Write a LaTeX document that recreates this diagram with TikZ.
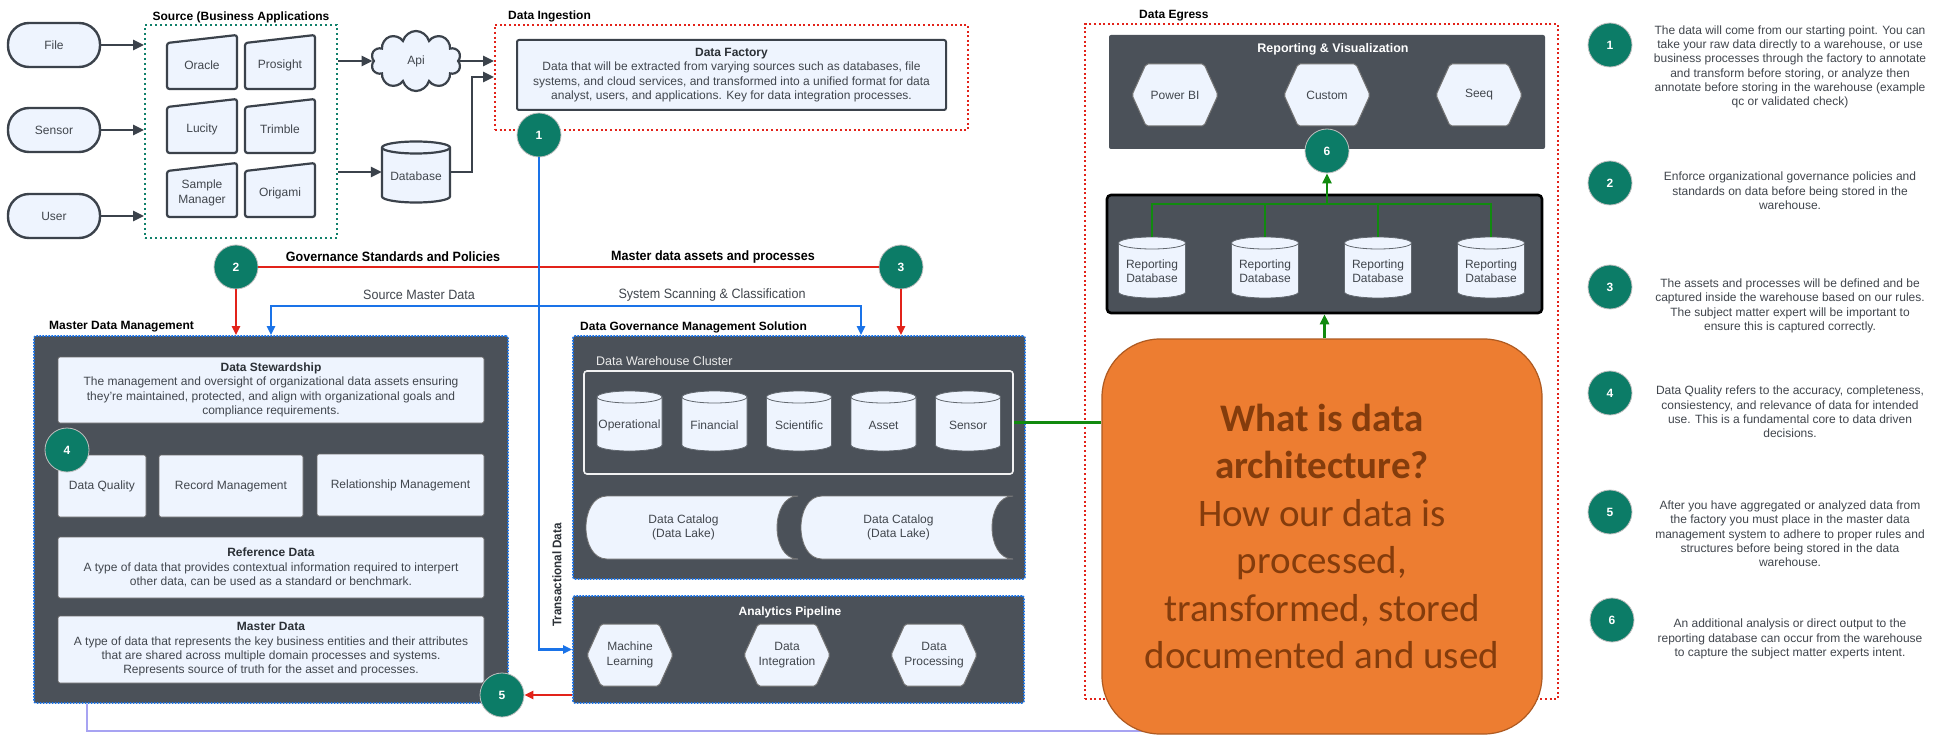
\documentclass[tikz,border=0pt]{standalone}
\usepackage{fontspec}
\setmainfont{Liberation Sans}
\newfontfamily\narrowfont{Liberation Sans}[FakeStretch=0.93]
\newfontfamily\calfont{Carlito}
\usetikzlibrary{shapes.symbols,arrows.meta,calc}

\definecolor{edge}{HTML}{3B424B}
\definecolor{lightfill}{HTML}{EEF4FE}
\definecolor{slate}{HTML}{4B5159}
\definecolor{teal}{HTML}{0C7C67}
\definecolor{srcgreen}{HTML}{11806A}
\definecolor{redc}{HTML}{E2231A}
\definecolor{bluec}{HTML}{1A73E8}
\definecolor{greenc}{HTML}{118A0F}
\definecolor{lav}{HTML}{A7A3F2}
\definecolor{txtgray}{HTML}{41464D}
\definecolor{titlegray}{HTML}{2B3036}
\definecolor{orangec}{HTML}{ED7D31}
\definecolor{orangeedge}{HTML}{AE5A21}
\definecolor{brownc}{HTML}{843C0C}

\tikzset{
 basetxt/.style={font=\fontsize{12}{14.4}\selectfont, text=txtgray, align=center, inner sep=0pt},
 lbox/.style={basetxt, draw=black!60, line width=0.8pt, fill=lightfill, rounded corners=2pt},
 darkbox/.style={fill=slate, rounded corners=2pt, inner sep=0pt},
 bluedot/.style={draw=bluec, line width=1.6pt, dash pattern=on 1.6pt off 1.4pt},
 reddot/.style={draw=redc, line width=2pt, dash pattern=on 2pt off 2.6pt, inner sep=0pt},
 greendot/.style={draw=srcgreen, line width=2pt, dash pattern=on 2pt off 3pt, inner sep=0pt},
 pill/.style={basetxt, draw=edge, line width=2.4pt, fill=lightfill, rounded corners=21pt, minimum width=92pt, minimum height=44pt},
 badge/.style={circle, fill=teal, draw=black!25, line width=0.8pt, minimum size=44pt, inner sep=0pt, text=white, font=\bfseries\fontsize{12}{14}\selectfont},
 sectitle/.style={font=\bfseries\fontsize{12}{14}\selectfont, text=black, inner sep=0pt},
 conn/.style={draw=edge, line width=2.6pt, -{Triangle[length=11pt,width=10pt]}},
 redarrow/.style={draw=redc, line width=2.6pt, -{Triangle[length=9pt,width=8pt]}},
 bluearrow/.style={draw=bluec, line width=2.6pt, -{Triangle[length=9pt,width=8pt]}},
 greenarrow/.style={draw=greenc, line width=2.6pt, -{Triangle[length=10pt,width=9pt]}},
 note/.style={basetxt, font=\fontsize{12}{14.3}\selectfont, text=txtgray},
 lbl/.style={font=\narrowfont\fontsize{13.5}{15}\selectfont, inner sep=0pt},
}

\newcommand\boxtitle[1]{\textbf{\textcolor{titlegray}{#1}}}

\newcommand\appnode[4]{%
 \filldraw[fill=lightfill, draw=edge, line width=2.2pt, rounded corners=2.5pt] (#2-35,#3+27) -- (#2-35,#3-19) -- (#2+35,#3-27) -- (#2+35,#3+27) -- cycle;
 \node[basetxt, minimum width=70pt, minimum height=46pt] (#1) at (#2,#3+3) {#4};}

\newcommand\cylnode[7][]{%
 \filldraw[fill=lightfill, draw=edge!80, line width=0.8pt, #1] (#3-#5/2,#4-#6/2+6) -- (#3-#5/2,#4+#6/2-6) arc[start angle=180,end angle=360,x radius=#5/2*1pt,y radius=6pt] -- (#3+#5/2,#4-#6/2+6) arc[start angle=0,end angle=180,x radius=#5/2*1pt,y radius=6pt] -- cycle;
 \draw[draw=edge!80, line width=0.8pt, #1] (#3-#5/2,#4-#6/2+6) arc[start angle=180,end angle=360,x radius=#5/2*1pt,y radius=6pt];
 \node[minimum width=#5pt, minimum height=#6pt, inner sep=0pt] (#2) at (#3,#4) {};
 \node[basetxt] (#2t) at (#3,#4+4) {#7};}

\newcommand\hexnode[4]{%
 \filldraw[fill=lightfill, draw=black!55, line width=1pt, rounded corners=2pt] (#2-43,#3) -- (#2-29,#3-31) -- (#2+29,#3-31) -- (#2+43,#3) -- (#2+29,#3+31) -- (#2-29,#3+31) -- cycle;
 \node[basetxt, minimum width=86pt, minimum height=62pt] (#1) at (#2,#3) {#4};}

\newcommand\catnode[6]{%
 \filldraw[fill=lightfill, draw=black!55, line width=0.8pt] (#2+22,#4) -- (#3,#4) .. controls (#3-28,#4) and (#3-28,#5) .. (#3,#5) -- (#2+22,#5) .. controls (#2-6,#5) and (#2-6,#4) .. (#2+22,#4) -- cycle;
 \node[basetxt] (#1) at ({(#2+#3)/2-8},{(#4+#5)/2}) {#6};}

\begin{document}
\begin{tikzpicture}[x=1pt,y=-1pt]
\useasboundingbox (0,0) rectangle (1948,735);
\fill[white] (0,0) rectangle (1948,735);

%% ---------- Source ----------
\node[greendot, minimum width=192pt, minimum height=213pt] (src) at (241,131.5) {};
\node[sectitle] (srct) at (241,17) {Source (Business Applications};
\node[pill] (file) at (54,45) {File};
\node[pill] (sensor) at (54,130) {Sensor};
\node[pill] (user) at (54,216) {User};
\appnode{oracle}{202}{62}{Oracle}
\appnode{prosight}{280}{62}{Prosight}
\appnode{lucity}{202}{126}{Lucity}
\appnode{trimble}{280}{126}{Trimble}
\appnode{sample}{202}{190}{Sample\\Manager}
\appnode{origami}{280}{190}{Origami}
\node[cloud, cloud puffs=10, draw=edge, line width=2.2pt, fill=lightfill, minimum width=90pt, minimum height=60pt, basetxt] (api) at (416,61) {Api};
\cylnode[line width=2.2pt, draw=edge]{db}{416}{172}{68}{61}{Database}

%% ---------- Data ingestion ----------
\node[reddot, minimum width=473pt, minimum height=105pt] (ingest) at (731.5,77.5) {};
\node[sectitle, anchor=west] (ingt) at (508,16) {Data Ingestion};
\node[lbox, draw=edge, line width=2pt, minimum width=429pt, minimum height=70pt] (factory) at (731.5,75)
 {\boxtitle{Data Factory}\\Data that will be extracted from varying sources such as databases, file\\systems, and cloud services, and transformed into a unified format for data\\analyst, users, and applications. Key for data integration processes.};

%% ---------- Master Data Management ----------
\node[darkbox, bluedot, minimum width=474pt, minimum height=367pt] (mdm) at (271,519.5) {};
\node[sectitle, anchor=west] (mdmt) at (49,327) {Master Data Management};
\node[lbox, minimum width=426pt, minimum height=66pt] (stew) at (271,390)
 {\boxtitle{Data Stewardship}\\The management and oversight of organizational data assets ensuring\\they're maintained, protected, and align with organizational goals and\\compliance requirements.};
\node[lbox, minimum width=88pt, minimum height=62pt] (dq) at (102,486) {Data Quality};
\node[lbox, minimum width=144pt, minimum height=62pt] (rm) at (231,486) {Record Management};
\node[lbox, minimum width=167pt, minimum height=62pt] (relm) at (400.5,485) {Relationship Management};
\node[lbox, minimum width=426pt, minimum height=61pt] (refd) at (271,567.5)
 {\boxtitle{Reference Data}\\A type of data that provides contextual information required to interpert\\other data, can be used as a standard or benchmark.};
\node[lbox, minimum width=426pt, minimum height=67pt] (md) at (271,649.5)
 {\boxtitle{Master Data}\\A type of data that represents the key business entities and their attributes\\that are shared across multiple domain processes and systems.\\Represents source of truth for the asset and processes.};

%% ---------- Data Governance Management Solution ----------
\node[darkbox, bluedot, minimum width=452pt, minimum height=243pt] (dgms) at (799,457.5) {};
\node[sectitle, anchor=west] (dgmst) at (580,327) {Data Governance Management Solution};
\node[draw=white!92!slate, line width=1.6pt, rounded corners=3pt, minimum width=429pt, minimum height=103pt, inner sep=0pt] (cluster) at (798.5,422.5) {};
\node[basetxt, text=white!92!black, anchor=west, font=\fontsize{12.5}{14}\selectfont] (dwc) at (596,361) {Data Warehouse Cluster};
\cylnode{c1}{629.5}{421}{65}{60}{Operational}
\cylnode{c2}{714.5}{421}{65}{60}{Financial}
\cylnode{c3}{799}{421}{65}{60}{Scientific}
\cylnode{c4}{883.5}{421}{65}{60}{Asset}
\cylnode{c5}{968}{421}{65}{60}{Sensor}
\catnode{cat1}{585}{798}{496}{559}{Data Catalog\\(Data Lake)}
\catnode{cat2}{800}{1013}{496}{559}{Data Catalog\\(Data Lake)}

%% ---------- Analytics Pipeline ----------
\node[darkbox, bluedot, minimum width=451pt, minimum height=107pt] (ap) at (798.5,649.5) {};
\node[sectitle, text=white] (apt) at (790,612) {Analytics Pipeline};
\hexnode{ml}{630}{655}{Machine\\Learning}
\hexnode{di}{787}{655}{Data\\Integration}
\hexnode{dp}{934}{655}{Data\\Processing}

%% ---------- Data Egress ----------
\node[reddot, minimum width=473pt, minimum height=675pt] (egress) at (1321.5,361.5) {};
\node[sectitle, anchor=west] (egt) at (1139,16) {Data Egress};
\node[darkbox, minimum width=436pt, minimum height=114pt] (rv) at (1327,92) {};
\node[sectitle, text=white, font=\bfseries\fontsize{12.5}{14}\selectfont] (rvt) at (1333,49) {Reporting \& Visualization};
\hexnode{pbi}{1175}{95}{Power BI}
\hexnode{cust}{1327}{95}{Custom}
\hexnode{seeq}{1479}{95}{Seeq}
\node[darkbox, draw=black, line width=2.6pt, rounded corners=4pt, minimum width=435pt, minimum height=118pt] (rdb) at (1324.5,254) {};
\cylnode{r1}{1152}{267.5}{67}{61}{Reporting\\Database}
\cylnode{r2}{1265}{267.5}{67}{61}{Reporting\\Database}
\cylnode{r3}{1378}{267.5}{67}{61}{Reporting\\Database}
\cylnode{r4}{1491}{267.5}{67}{61}{Reporting\\Database}

%% ---------- Connectors ----------
\draw[conn] (file.east) -- (file.east -| src.west);
\draw[conn] (sensor.east) -- (sensor.east -| src.west);
\draw[conn] (user.east) -- (user.east -| src.west);
\draw[conn] (src.east |- api.west) -- (api.west);
\draw[conn] (src.east |- db.west) -- (db.west);
\draw[conn] (api.east) -- (api.east -| ingest.west);
\coordinate (dbturn) at (472,77);
\draw[conn] (db.east) -| (dbturn) -- (dbturn -| ingest.west);

\node[badge] (b2) at (236,267) {2};
\node[badge] (b3) at (901,267) {3};
\draw[redc, line width=2.6pt] (b2.east) -- (b3.west);
\node[lbl, font=\narrowfont\bfseries\fontsize{13.5}{15}\selectfont, text=black] (gsp) at (393,257) {Governance Standards and Policies};
\node[lbl, font=\narrowfont\bfseries\fontsize{13.5}{15}\selectfont, text=black] (mdap) at (713,257) {Master data assets and processes};
\draw[redarrow] (b2.south) -- (b2.south |- mdm.north);
\draw[redarrow] (b3.south) -- (b3.south |- dgms.north);

\coordinate (bsl) at (271,306);
\coordinate (bsr) at (861,306);
\draw[bluec, line width=2.6pt, {Triangle[length=9pt,width=8pt]}-{Triangle[length=9pt,width=8pt]}] (bsl |- mdm.north) -- (bsl) -- (bsr) -- (bsr |- dgms.north);
\node[lbl, text=txtgray] (smd) at (419,295) {Source Master Data};
\node[lbl, text=txtgray] (ssc) at (712,295) {System Scanning \& Classification};

\node[badge] (b1) at (539,135) {1};
\draw[bluearrow] (b1.south) |- (ap.west);
\node[lbl, font=\narrowfont\bfseries\fontsize{12.5}{15}\selectfont, text=titlegray, rotate=90] (txd) at (557,575) {Transactional Data};

\node[badge] (b4) at (67,450) {4};
\node[badge] (b5) at (502,695) {5};
\draw[redarrow] (b5.east -| ap.west) -- (b5.east);

\coordinate (lavx) at (87,731);
\coordinate (lavend) at (1250,731);
\draw[lav, line width=2pt] (lavx |- mdm.south) -- (lavx) -- (lavend);

\node[badge] (b6) at (1327,151) {6};
\coordinate (gt) at (1327,204);
\draw[greenc, line width=2.6pt] (r1.north) -- (r1.north |- gt) -- (r4.north |- gt) -- (r4.north);
\draw[greenc, line width=2.6pt] (r2.north) -- (r2.north |- gt);
\draw[greenc, line width=2.6pt] (r3.north) -- (r3.north |- gt);
\draw[greenarrow] (gt) -- (b6.south);

%% ---------- Orange call-out ----------
\node[fill=orangec, draw=orangeedge, line width=1.2pt, rounded corners=58pt, minimum width=440pt, minimum height=395pt, text=brownc, align=center, font=\calfont\fontsize{39}{47.5}\selectfont] (orange) at (1322,536.5)
 {\textbf{What is data}\\\textbf{architecture?}\\How our data is\\processed,\\transformed, stored\\documented and used};
\draw[greenarrow] (rdb.south |- orange.north) -- (rdb.south);
\draw[greenc, line width=2.6pt] (cluster.east) -- (cluster.east -| orange.west);

%% ---------- Legend ----------
\node[badge] (n1) at (1610,45) {1};
\node[note] (t1) at (1790,67) {The data will come from our starting point. You can\\take your raw data directly to a warehouse, or use\\business processes through the factory to annotate\\and transform before storing, or analyze then\\annotate before storing in the warehouse (example\\qc or validated check)};
\node[badge] (n2) at (1610,183) {2};
\node[note] (t2) at (1790,191) {Enforce organizational governance policies and\\standards on data before being stored in the\\warehouse.};
\node[badge] (n3) at (1610,287) {3};
\node[note] (t3) at (1790,306) {The assets and processes will be defined and be\\captured inside the warehouse based on our rules.\\The subject matter expert will be important to\\ensure this is captured correctly.};
\node[badge] (n4) at (1610,393) {4};
\node[note] (t4) at (1790,412) {Data Quality refers to the accuracy, completeness,\\consiestency, and relevance of data for intended\\use. This is a fundamental core to data driven\\decisions.};
\node[badge] (n5) at (1610,512) {5};
\node[note] (t5) at (1790,534) {After you have aggregated or analyzed data from\\the factory you must place in the master data\\management system to adhere to proper rules and\\structures before being stored in the data\\warehouse.};
\node[badge] (n6) at (1612,620) {6};
\node[note] (t6) at (1790,639) {An additional analysis or direct output to the\\reporting database can occur from the warehouse\\to capture the subject matter experts intent.};
\end{tikzpicture}
\end{document}
